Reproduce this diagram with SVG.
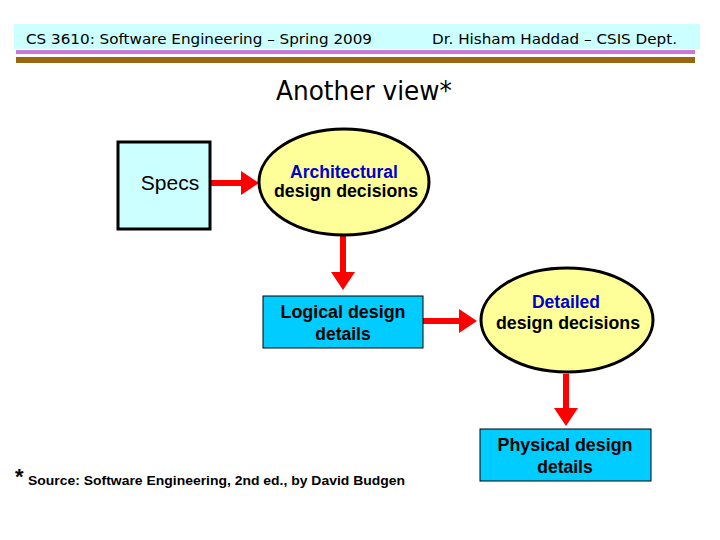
<svg xmlns="http://www.w3.org/2000/svg" width="720" height="540" viewBox="0 0 720 540">
<style>
.hdr{font-family:"DejaVu Sans",Verdana,sans-serif;font-size:14px;fill:#000}
.lbl{font-family:"Liberation Sans",Arial,sans-serif;font-size:17.5px;font-weight:bold;fill:#000;text-anchor:middle}
.blue{fill:#0000cc}
.ell{fill:#ffff99;stroke:#000;stroke-width:3}
.box{fill:#00ccff;stroke:#000;stroke-width:1}
.conn{stroke:#ff0000;stroke-width:6;fill:none}
</style>
<defs>
<marker id="ah" markerUnits="userSpaceOnUse" markerWidth="20" markerHeight="24" refX="2" refY="12" orient="auto">
<path d="M0,0 L18,12 L0,24 Z" fill="#ff0000"/>
</marker>
</defs>
<rect width="720" height="540" fill="#fff"/>
<g id="header">
<rect x="14" y="24" width="686" height="25" fill="#ccffff"/>
<rect x="16" y="50" width="679" height="4" fill="#cc77dd"/>
<rect x="16" y="57" width="679" height="6" fill="#996611"/>
<text class="hdr" x="26" y="44" textLength="346" lengthAdjust="spacingAndGlyphs">CS 3610: Software Engineering – Spring 2009</text>
<text class="hdr" x="432" y="44" textLength="245" lengthAdjust="spacingAndGlyphs">Dr. Hisham Haddad – CSIS Dept.</text>
</g>
<text x="276" y="100" font-family="DejaVu Sans,Verdana,sans-serif" font-size="26" textLength="176" lengthAdjust="spacingAndGlyphs">Another view*</text>
<g id="connectors">
<line class="conn" x1="210" y1="183" x2="243" y2="183" marker-end="url(#ah)"/>
<line class="conn" x1="343" y1="236" x2="343" y2="274" marker-end="url(#ah)"/>
<line class="conn" x1="423" y1="321" x2="461" y2="321" marker-end="url(#ah)"/>
<line class="conn" x1="566" y1="374" x2="566" y2="410" marker-end="url(#ah)"/>
</g>
<g id="specs">
<rect x="118" y="142" width="92" height="87" fill="#ccffff" stroke="#000" stroke-width="3"/>
<text x="170" y="190" font-family="Liberation Sans,Arial,sans-serif" font-size="21" text-anchor="middle">Specs</text>
</g>
<g id="arch">
<ellipse class="ell" cx="344" cy="182" rx="85" ry="53"/>
<text class="lbl blue" x="344" y="178">Architectural</text>
<text class="lbl" x="346" y="197" textLength="144" lengthAdjust="spacingAndGlyphs">design decisions</text>
</g>
<g id="logical">
<rect class="box" x="263" y="296" width="160" height="52"/>
<text class="lbl" x="343" y="318" textLength="125" lengthAdjust="spacingAndGlyphs">Logical design</text>
<text class="lbl" x="343" y="340">details</text>
</g>
<g id="detailed">
<ellipse class="ell" cx="567" cy="320" rx="86" ry="52"/>
<text class="lbl blue" x="566" y="308">Detailed</text>
<text class="lbl" x="568" y="329" textLength="144" lengthAdjust="spacingAndGlyphs">design decisions</text>
</g>
<g id="physical">
<rect class="box" x="480" y="429" width="171" height="52"/>
<text class="lbl" x="565" y="451" textLength="135" lengthAdjust="spacingAndGlyphs">Physical design</text>
<text class="lbl" x="565" y="473">details</text>
</g>
<g id="footnote">
<text x="15" y="484" font-family="Liberation Sans,Arial,sans-serif" font-size="22" font-weight="bold">*</text>
<text x="28" y="485" font-family="Liberation Sans,Arial,sans-serif" font-size="13" font-weight="bold" textLength="377" lengthAdjust="spacingAndGlyphs">Source: Software Engineering, 2nd ed., by David Budgen</text>
</g>
</svg>
